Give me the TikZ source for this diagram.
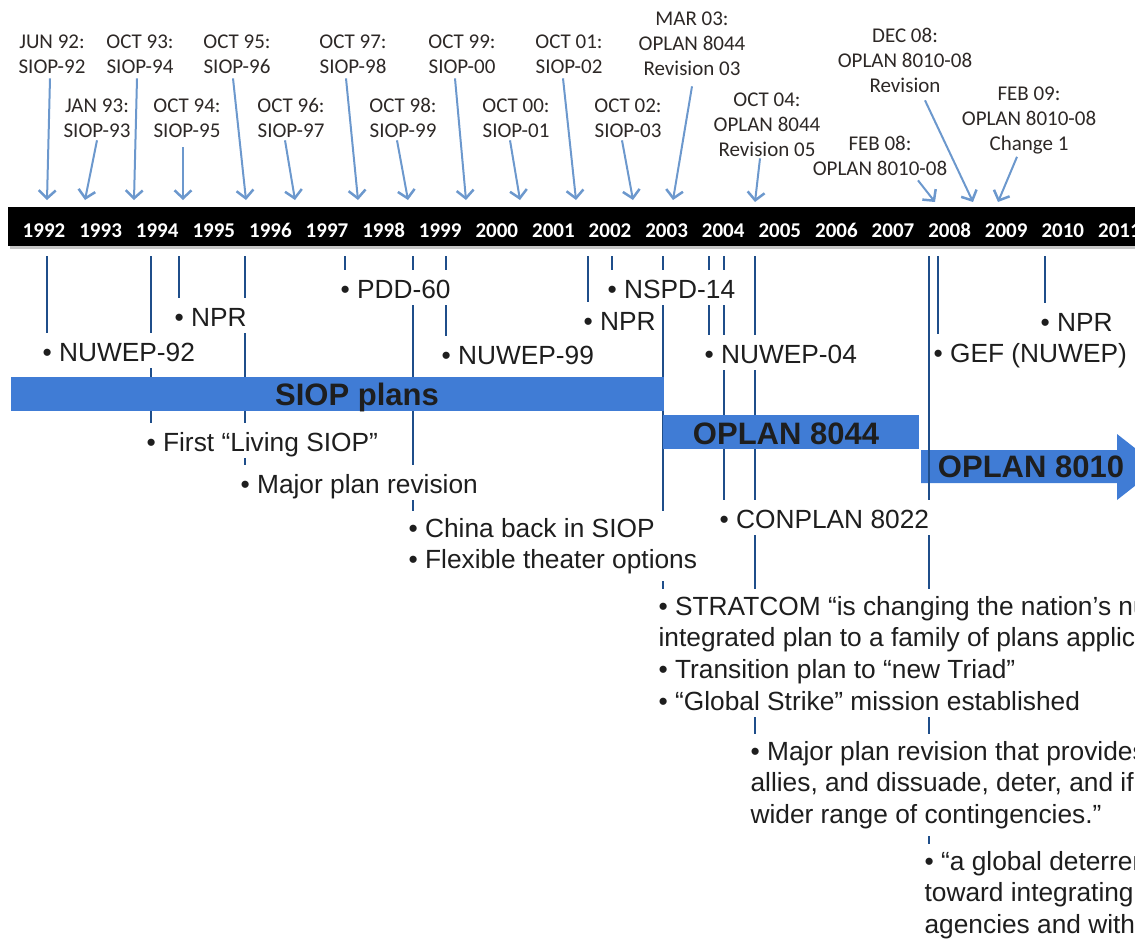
\documentclass[tikz,border=0pt]{standalone}
\usepackage{fontspec}
\setmainfont{Liberation Sans}
\newfontfamily\calfont{Carlito}
\usetikzlibrary{arrows.meta}
\usetikzlibrary{calc}
\definecolor{barblue}{RGB}{64,124,213}
\definecolor{linkblue}{RGB}{31,78,138}
\definecolor{arrblue}{RGB}{108,152,205}
\definecolor{lbltext}{RGB}{45,40,38}
\definecolor{txt}{RGB}{30,30,30}
\pgfdeclarelayer{back}
\pgfdeclarelayer{lines}
\pgfsetlayers{back,lines,main}

\begin{document}
\begin{tikzpicture}
  [x=1pt,y=-1pt,
  lbl/.style={font=\calfont\fontsize{21}{25}\selectfont,align=center,text=lbltext,inner sep=1pt,anchor=base,yshift=-(#1-1)*25pt},
  lbl/.default=2,
  yr/.style={font=\calfont\bfseries\fontsize{21}{25}\selectfont,text=white,anchor=base,inner sep=0pt},
  item/.style={font=\fontsize{26.3}{31.7}\selectfont,text=txt,fill=white,anchor=base west,xshift=-6.6pt,inner xsep=2pt,inner ysep=2pt,text height=26pt,text depth=5pt},
  items/.style={font=\fontsize{26.3}{31.7}\selectfont,text=txt,fill=white,anchor=base west,xshift=-6.6pt,yshift=-(#1-1)*31.7pt,inner xsep=2pt,inner ysep=7pt,align=left},
  vline/.style={linkblue,line width=2pt},
  tarrow/.style={arrblue,line width=2pt,-{Straight Barb[length=8pt,width=17pt,line width=2.5pt]}},
  barlbl/.style={font=\bfseries\fontsize{31}{31}\selectfont,text=txt,anchor=base,inner sep=0pt}]
  \useasboundingbox (0,0) rectangle (1135,938);
  \clip (0,0) rectangle (1135,938);

  % plan labels above the years
  \node[lbl] (t92) at (52,48) {JUN 92:\\SIOP-92};
  \node[lbl] (t93) at (97,112) {JAN 93:\\SIOP-93};
  \node[lbl] (t94) at (140,48) {OCT 93:\\SIOP-94};
  \node[lbl] (t95) at (187,112) {OCT 94:\\SIOP-95};
  \node[lbl] (t96) at (237,48) {OCT 95:\\SIOP-96};
  \node[lbl] (t97) at (291,112) {OCT 96:\\SIOP-97};
  \node[lbl] (t98) at (353,48) {OCT 97:\\SIOP-98};
  \node[lbl] (t99) at (403,112) {OCT 98:\\SIOP-99};
  \node[lbl] (t00) at (462,48) {OCT 99:\\SIOP-00};
  \node[lbl] (t01) at (516,112) {OCT 00:\\SIOP-01};
  \node[lbl] (t02) at (569,48) {OCT 01:\\SIOP-02};
  \node[lbl] (t03) at (628,112) {OCT 02:\\SIOP-03};
  \node[lbl=3] (r03) at (692,25) {MAR 03:\\OPLAN 8044\\Revision 03};
  \node[lbl=3] (r05) at (767,106) {OCT 04:\\OPLAN 8044\\Revision 05};
  \node[lbl] (p08) at (880,150) {FEB 08:\\OPLAN 8010-08};
  \node[lbl=3] (v08) at (905,42) {DEC 08:\\OPLAN 8010-08\\Revision};
  \node[lbl=3] (c09) at (1029,100) {FEB 09:\\OPLAN 8010-08\\Change 1};

  \coordinate (a92) at (47,200);
  \coordinate (a93) at (85,200);
  \coordinate (a94) at (134,200);
  \coordinate (a95) at (183,200);
  \coordinate (a96) at (246,200);
  \coordinate (a97) at (295,200);
  \coordinate (a98) at (358,200);
  \coordinate (a99) at (408,200);
  \coordinate (a00) at (466,200);
  \coordinate (a01) at (520,200);
  \coordinate (a02) at (576,200);
  \coordinate (a03) at (633,200);
  \coordinate (ar03) at (673,200);
  \coordinate (ar05) at (755,202);
  \coordinate (ap08) at (935,202);
  \coordinate (av08) at (973,202);
  \coordinate (ac09) at (998,202);

  \draw[tarrow] ([xshift=-2pt,yshift=-4pt]t92.south) -- (a92);
  \draw[tarrow] ([yshift=-2pt]t93.south) -- (a93);
  \draw[tarrow] ([xshift=-3pt,yshift=-4pt]t94.south) -- (a94);
  \draw[tarrow] ([xshift=-4pt,yshift=-9pt]t95.south) -- (a95);
  \draw[tarrow] ([xshift=-4pt,yshift=-4pt]t96.south) -- (a96);
  \draw[tarrow] ([xshift=-6pt,yshift=-2pt]t97.south) -- (a97);
  \draw[tarrow] ([xshift=-7pt,yshift=-4pt]t98.south) -- (a98);
  \draw[tarrow] ([xshift=-6pt,yshift=-2pt]t99.south) -- (a99);
  \draw[tarrow] ([xshift=-7pt,yshift=-4pt]t00.south) -- (a00);
  \draw[tarrow] ([xshift=-6pt,yshift=-2pt]t01.south) -- (a01);
  \draw[tarrow] ([xshift=-6pt,yshift=-4pt]t02.south) -- (a02);
  \draw[tarrow] ([xshift=-6pt,yshift=-2pt]t03.south) -- (a03);
  \draw[tarrow] ([yshift=-10pt]r03.south) -- (ar03);
  \draw[tarrow] ([xshift=-7pt,yshift=-1pt]r05.south) -- (ar05);
  \draw[tarrow] ([xshift=38pt,yshift=-4pt]p08.south) -- (ap08);
  \draw[tarrow] ([xshift=20pt,yshift=-7pt]v08.south) -- (av08);
  \draw[tarrow] ([xshift=-12pt,yshift=-2pt]c09.south) -- (ac09);

  % the year bar
  \fill[gray!45] (10,246) rectangle (1140,249);
  \fill[black] (8,207) rectangle (1140,246);
  \node[yr] (y1992) at (44,237) {1992};
  \node[yr] (y1993) at (100.6,237) {1993};
  \node[yr] (y1994) at (157.2,237) {1994};
  \node[yr] (y1995) at (213.8,237) {1995};
  \node[yr] (y1996) at (270.4,237) {1996};
  \node[yr] (y1997) at (327,237) {1997};
  \node[yr] (y1998) at (383.6,237) {1998};
  \node[yr] (y1999) at (440.2,237) {1999};
  \node[yr] (y2000) at (496.8,237) {2000};
  \node[yr] (y2001) at (553.4,237) {2001};
  \node[yr] (y2002) at (610,237) {2002};
  \node[yr] (y2003) at (666.6,237) {2003};
  \node[yr] (y2004) at (723.2,237) {2004};
  \node[yr] (y2005) at (779.8,237) {2005};
  \node[yr] (y2006) at (836.4,237) {2006};
  \node[yr] (y2007) at (893,237) {2007};
  \node[yr] (y2008) at (949.6,237) {2008};
  \node[yr] (y2009) at (1006.2,237) {2009};
  \node[yr] (y2010) at (1062.8,237) {2010};
  \node[yr] (y2011) at (1119.4,237) {2011};
  \coordinate (top) at (0,256);

  % plan bars
  \fill[barblue] (11,377) rectangle (664,411);
  \node[barlbl] (siop) at (357,405) {SIOP plans};
  \fill[barblue] (663,415) rectangle (919,449);
  \node[barlbl] (o8044) at (786,444) {OPLAN 8044};
  \begin{pgfonlayer}{back}
    \fill[barblue] (921,450) -- (1117,450) -- (1117,434) -- (1159,467) -- (1117,500) -- (1117,483) -- (921,483) -- cycle;
  \end{pgfonlayer}
  \node[barlbl] (o8010) at (1031,477) {OPLAN 8010};

  % guidance and events
  \coordinate (b92) at (47,361);
  \coordinate (bnpr1) at (179,326);
  \coordinate (bpdd) at (345,298);
  \coordinate (bn99) at (446,364);
  \coordinate (bnpr2) at (588,330);
  \coordinate (bnspd) at (612,298);
  \coordinate (bn04) at (709,363);
  \coordinate (bgef) at (938,362);
  \coordinate (bnpr3) at (1045,331);
  \coordinate (bliv) at (151,451);
  \coordinate (bmaj) at (245,493);
  \coordinate (bchina) at (413,537);
  \coordinate (bcon) at (724,528);
  \coordinate (bstrat) at (663,615);
  \coordinate (bmaj2) at (755,760);
  \coordinate (bglob) at (929,870);

  \node[item] (n92) at (b92) {• NUWEP-92};
  \node[item] (npr1) at (bnpr1) {• NPR};
  \node[item] (pdd) at (bpdd) {• PDD-60};
  \node[item] (n99) at (bn99) {• NUWEP-99};
  \node[item] (npr2) at (bnpr2) {• NPR};
  \node[item] (nspd) at (bnspd) {• NSPD-14};
  \node[item] (n04) at (bn04) {• NUWEP-04};
  \node[item] (gef) at (bgef) {• GEF (NUWEP)};
  \node[item] (npr3) at (bnpr3) {• NPR};
  \node[item] (liv) at (bliv) {• First “Living SIOP”};
  \node[item] (maj) at (bmaj) {• Major plan revision};
  \node[items=2] (china) at (bchina) {• China back in SIOP\\• Flexible theater options};
  \node[item] (con) at (bcon) {• CONPLAN 8022};
  \node[items=4] (strat) at (bstrat) {• STRATCOM “is changing the nation’s nuclear\\integrated plan to a family of plans applicable\\• Transition plan to “new Triad”\\• “Global Strike” mission established};
  \node[items=3] (maj2) at (bmaj2) {• Major plan revision that provides\\allies, and dissuade, deter, and if\\wider range of contingencies.”};
  \node[items=3] (glob) at (bglob) {• “a global deterrence\\toward integrating\\agencies and with};

  \begin{pgfonlayer}{lines}
    \draw[vline] (b92 |- top) -- (b92);
    \draw[vline] (bliv |- top) -- (bliv);
    \draw[vline] (bnpr1 |- top) -- (bnpr1);
    \draw[vline] (bmaj |- top) -- (bmaj);
    \draw[vline] (bpdd |- top) -- (bpdd);
    \draw[vline] (bchina |- top) -- (bchina);
    \draw[vline] (bn99 |- top) -- (bn99);
    \draw[vline] (bnpr2 |- top) -- (bnpr2);
    \draw[vline] (bnspd |- top) -- (bnspd);
    \draw[vline] (bstrat |- top) -- (bstrat);
    \draw[vline] (bn04 |- top) -- (bn04);
    \draw[vline] (bcon |- top) -- (bcon);
    \draw[vline] (bmaj2 |- top) -- (bmaj2);
    \draw[vline] (bglob |- top) -- (bglob);
    \draw[vline] (bgef |- top) -- (bgef);
    \draw[vline] (bnpr3 |- top) -- (bnpr3);
  \end{pgfonlayer}
\end{tikzpicture}
\end{document}
